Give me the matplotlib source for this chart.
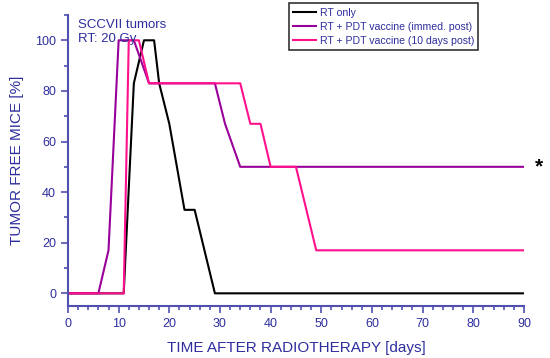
import matplotlib
matplotlib.use('Agg')
import matplotlib.pyplot as plt
from matplotlib.ticker import MultipleLocator

plt.rcParams['font.family'] = ['Liberation Sans', 'DejaVu Sans']

# Kaplan-Meier style step data
rt_days = [0, 11, 13, 15, 17, 18, 20, 23, 25, 29, 90]
rt_vals = [0, 0, 83, 100, 100, 83, 67, 33, 33, 0, 0]

imm_days = [0, 6, 8, 10, 13, 16, 29, 31, 34, 90]
imm_vals = [0, 0, 17, 100, 100, 83, 83, 67, 50, 50]

late_days = [0, 11, 12, 14, 16, 34, 36, 38, 40, 45, 49, 90]
late_vals = [0, 0, 100, 100, 83, 83, 67, 67, 50, 50, 17, 17]

labels = ['RT only', 'RT + PDT vaccine (immed. post)', 'RT + PDT vaccine (10 days post)']
colors = ['black', '#990099', '#FF108C']

axis_col = '#5050B0'
text_col = '#2E2E9E'

fig = plt.figure(figsize=(5.5, 3.58), dpi=100)
ax = fig.add_axes([0.1236, 0.1453, 0.829, 0.8128])

ax.plot(rt_days, rt_vals, color=colors[0], lw=1.5, label=labels[0])
ax.plot(imm_days, imm_vals, color=colors[1], lw=1.5, label=labels[1])
ax.plot(late_days, late_vals, color=colors[2], lw=1.5, label=labels[2])

ax.set_xlim(0, 90)
ax.set_ylim(-5, 110)
ax.xaxis.set_major_locator(MultipleLocator(10))
ax.xaxis.set_minor_locator(MultipleLocator(2))
ax.yaxis.set_major_locator(MultipleLocator(20))
ax.yaxis.set_minor_locator(MultipleLocator(10))
ax.set_yticks([0, 20, 40, 60, 80, 100])

for s in ['top', 'right']:
    ax.spines[s].set_visible(False)
for s in ['left', 'bottom']:
    ax.spines[s].set_color(axis_col)
    ax.spines[s].set_linewidth(1.5)

ax.tick_params(which='major', direction='out', length=5, width=1.2, color=axis_col,
               labelcolor=text_col, labelsize=9)
ax.tick_params(which='minor', direction='out', length=3, width=1.2, color=axis_col)

ax.set_xlabel('TIME AFTER RADIOTHERAPY [days]', color=text_col, fontsize=11, labelpad=8)
ax.set_ylabel('TUMOR FREE MICE [%]', color=text_col, fontsize=11, labelpad=8)

ax.text(2, 108.5, 'SCCVII tumors\nRT: 20 Gy', color=text_col, fontsize=9.5,
        va='top', ha='left', linespacing=1.25)

ax.text(93, 50, '*', fontsize=15, fontweight='bold', color='black',
        ha='center', va='center', clip_on=False)

leg = ax.legend(loc='upper left', bbox_to_anchor=(0.485, 1.04), fontsize=7.6,
                frameon=True, fancybox=False, handlelength=2.1,
                borderpad=0.4, labelspacing=0.4, handletextpad=0.4,
                borderaxespad=0)
leg.get_frame().set_edgecolor('black')
leg.get_frame().set_linewidth(1.2)
for t in leg.get_texts():
    t.set_color(text_col)

fig.savefig('out.png', dpi=100)
